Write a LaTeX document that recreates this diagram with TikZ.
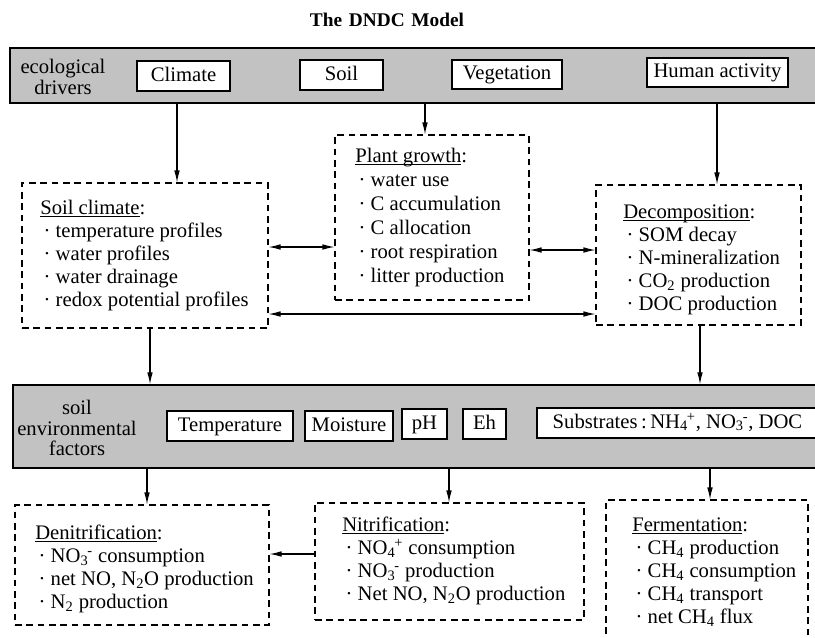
\documentclass[tikz,border=0pt]{standalone}
\usepackage{fontspec}
\setmainfont{Liberation Serif}
\usetikzlibrary{arrows.meta,fit}
\definecolor{bandgray}{gray}{0.76}
\newcommand\myul[1]{\setbox0\hbox{#1}\rlap{\rule[-1.6pt]{\wd0}{0.45pt}}\box0}
\newcommand\subsup[2]{\textsubscript{#1}\kern-0.8pt\textsuperscript{#2}}
\newcommand\itm{\,·~}
\begin{document}
\begin{tikzpicture}[x=0.75pt,y=-0.75pt,
  every node/.style={font=\fontsize{15.5}{17.25}\selectfont},
  band/.style={draw=black, line width=1.1pt, fill=bandgray, inner sep=0pt},
  wbox/.style={draw=black, line width=0.9pt, fill=white, inner sep=0pt},
  lbl/.style={inner sep=0pt, text height=10.5pt, text depth=3pt},
  dbox/.style={draw=black, line width=0.8pt, dash pattern=on 5pt off 3.5pt, inner sep=0pt},
  txt/.style={anchor=north west, inner sep=0pt, align=left},
  arr/.style={line width=0.8pt, -{Latex[length=9pt,width=4.2pt]}},
  darr/.style={line width=0.8pt, {Latex[length=9pt,width=4.2pt]}-{Latex[length=9pt,width=4.2pt]}},
]
\useasboundingbox (0,0) rectangle (815,637);
\clip (0,0) rectangle (815,637);

\node[font=\bfseries\fontsize{14.5}{16}\selectfont] (title) at (387,20) {The\hspace{0.35em}DNDC\hspace{0.35em}Model};

% ecological drivers band
\node[band, fit={(10,48) (822,103)}] (drivers) {};
\node[align=center, font=\fontsize{15.5}{15.75}\selectfont] (drvlab) at (63,77) {ecological\\drivers};
\node[wbox, fit={(137,61) (230,91)}] (climate) {};
\node[lbl] (climatet) at (climate.center) {Climate};
\node[wbox, fit={(300,60) (383,90)}] (soil) {};
\node[lbl] (soilt) at (soil.center) {Soil};
\node[wbox, fit={(452,60) (562,89)}] (veg) {};
\node[lbl] (vegt) at (veg.center) {Vegetation};
\node[wbox, fit={(647,58) (788,87)}] (human) {};
\node[lbl] (humant) at (human.center) {Human activity};

% middle dashed boxes
\node[dbox, fit={(22,183) (268,328)}] (sc) {};
\node[txt] (sctxt) at (40,200) {\myul{Soil climate}:\\\itm temperature profiles\\\itm water profiles\\\itm water drainage\\\itm redox potential profiles};

\node[dbox, fit={(335,135) (529,300)}] (pg) {};
\node[txt, font=\fontsize{15.5}{18}\selectfont] (pgtxt) at (355,148) {\myul{Plant growth}:\\\itm water use\\\itm C accumulation\\\itm C allocation\\\itm root respiration\\\itm litter production};

\node[dbox, fit={(596,185) (801,325)}] (dc) {};
\node[txt] (dctxt) at (623,205) {\myul{Decomposition}:\\\itm SOM decay\\\itm N-mineralization\\\itm CO\textsubscript{2} production\\\itm DOC production};

% soil environmental factors band
\node[band, fit={(13,385) (822,468)}] (envf) {};
\node[align=center, font=\fontsize{15.5}{15.4}\selectfont] (envlab) at (77,428) {soil\\environmental\\factors};
\node[wbox, fit={(167,411) (293,441)}] (temp) {};
\node[lbl] (tempt) at (temp.center) {Temperature};
\node[wbox, fit={(305,411) (393,441)}] (moist) {};
\node[lbl] (moistt) at (moist.center) {Moisture};
\node[wbox, fit={(402,409) (447,439)}] (ph) {};
\node[lbl] (pht) at (ph.center) {pH};
\node[wbox, fit={(463,409) (506,439)}] (eh) {};
\node[lbl] (eht) at (eh.center) {Eh};
\node[wbox, fit={(537,408) (818,438)}] (subs) {};
\node[lbl] (subst) at (subs.center) {Substrates\,:\,NH\subsup{4}{+}, NO\subsup{3}{-}, DOC};

% bottom dashed boxes
\node[dbox, fit={(15,505) (269,625)}] (dn) {};
\node[txt] (dntxt) at (35,525) {\myul{Denitrification}:\\\itm NO\subsup{3}{-} consumption\\\itm net NO, N\textsubscript{2}O production\\\itm N\textsubscript{2} production};

\node[dbox, fit={(315,503) (584,620)}] (nt) {};
\node[txt] (nttxt) at (342,517) {\myul{Nitrification}:\\\itm NO\subsup{4}{+} consumption\\\itm NO\subsup{3}{-} production\\\itm Net NO, N\textsubscript{2}O production};

\node[dbox, fit={(606,500) (808,660)}] (fm) {};
\node[txt] (fmtxt) at (632,518) {\myul{Fermentation}:\\\itm CH\textsubscript{4} production\\\itm CH\textsubscript{4} consumption\\\itm CH\textsubscript{4} transport\\\itm net CH\textsubscript{4} flux};

% connector coordinates
\coordinate (v1) at (177,0);
\coordinate (v2) at (425,0);
\coordinate (v3) at (717,0);
\coordinate (v4) at (150,0);
\coordinate (v5) at (700,0);
\coordinate (v6) at (147,0);
\coordinate (v7) at (449,0);
\coordinate (v8) at (710,0);
\coordinate (h1) at (0,247);
\coordinate (h2) at (0,250);
\coordinate (h3) at (0,314);
\coordinate (h4) at (0,554);

\draw[arr] (v1 |- drivers.south) -- (v1 |- sc.north);
\draw[arr] (v2 |- drivers.south) -- (v2 |- pg.north);
\draw[arr] (v3 |- drivers.south) -- (v3 |- dc.north);
\draw[arr] (v4 |- sc.south) -- (v4 |- envf.north);
\draw[arr] (v5 |- dc.south) -- (v5 |- envf.north);
\draw[arr] (v6 |- envf.south) -- (v6 |- dn.north);
\draw[arr] (v7 |- envf.south) -- (v7 |- nt.north);
\draw[arr] (v8 |- envf.south) -- (v8 |- fm.north);
\draw[darr] (h1 -| sc.east) -- (h1 -| pg.west);
\draw[darr] (h2 -| pg.east) -- (h2 -| dc.west);
\draw[darr] (h3 -| sc.east) -- (h3 -| dc.west);
\draw[arr] (h4 -| nt.west) -- (h4 -| dn.east);
\end{tikzpicture}
\end{document}
